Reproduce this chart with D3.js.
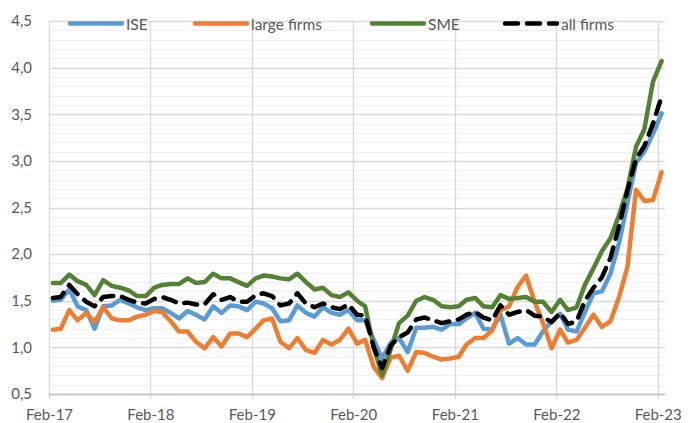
<!DOCTYPE html>
<html>
<head>
<meta charset="utf-8">
<script src="https://cdn.jsdelivr.net/npm/d3@7"></script>
<style>
body { margin: 0; background: #fff; }
svg text { font-family: Lato, "Liberation Sans", sans-serif; fill: #595959; }
</style>
</head>
<body>
<script>

// monthly values, Feb-17 .. Feb-23 (73 points)
var ise = [1.50,1.51,1.62,1.44,1.40,1.20,1.44,1.45,1.51,1.47,1.43,1.40,1.42,
  1.42,1.37,1.31,1.39,1.35,1.30,1.44,1.37,1.45,1.44,1.40,1.49,
  1.47,1.42,1.28,1.29,1.45,1.37,1.33,1.43,1.37,1.35,1.40,1.29,
  1.29,1.08,0.88,1.05,1.10,0.95,1.21,1.21,1.22,1.19,1.25,1.25,
  1.31,1.37,1.20,1.19,1.35,1.04,1.10,1.03,1.03,1.17,1.28,1.36,
  1.19,1.17,1.38,1.58,1.60,1.79,2.12,2.55,2.98,3.10,3.29,3.51];

var large = [1.19,1.20,1.40,1.29,1.37,1.27,1.43,1.31,1.29,1.29,1.33,1.35,1.39,
  1.38,1.28,1.17,1.17,1.06,0.99,1.11,1.01,1.15,1.15,1.11,1.20,
  1.29,1.31,1.06,0.99,1.10,0.97,0.94,1.08,1.03,1.08,1.20,1.04,
  1.08,0.79,0.67,0.89,0.91,0.75,0.95,0.94,0.90,0.87,0.88,0.90,
  1.03,1.10,1.10,1.18,1.40,1.44,1.65,1.77,1.49,1.26,0.99,1.19,
  1.05,1.08,1.21,1.35,1.22,1.28,1.54,1.86,2.69,2.57,2.58,2.88];

var sme = [1.69,1.69,1.78,1.71,1.67,1.56,1.72,1.66,1.64,1.61,1.55,1.55,1.64,
  1.67,1.68,1.68,1.74,1.69,1.70,1.79,1.74,1.74,1.70,1.66,1.74,
  1.77,1.76,1.74,1.73,1.79,1.70,1.62,1.64,1.56,1.54,1.59,1.50,
  1.44,1.00,0.70,0.98,1.26,1.34,1.50,1.54,1.51,1.44,1.43,1.44,
  1.51,1.53,1.44,1.43,1.56,1.52,1.53,1.54,1.49,1.49,1.38,1.51,
  1.40,1.43,1.67,1.85,2.03,2.17,2.42,2.70,3.15,3.34,3.85,4.07];

var allFirms = [1.53,1.54,1.67,1.57,1.49,1.44,1.54,1.55,1.55,1.51,1.48,1.47,1.52,
  1.54,1.51,1.47,1.48,1.46,1.46,1.57,1.51,1.54,1.49,1.49,1.56,
  1.58,1.55,1.45,1.47,1.58,1.47,1.43,1.47,1.43,1.41,1.46,1.35,
  1.34,1.00,0.78,1.02,1.11,1.16,1.30,1.32,1.29,1.26,1.28,1.30,
  1.35,1.38,1.32,1.29,1.45,1.35,1.38,1.40,1.34,1.33,1.27,1.37,
  1.25,1.28,1.50,1.64,1.75,1.96,2.30,2.68,3.02,3.16,3.40,3.69];

var seriesNames = ["ISE", "large firms", "SME", "all firms"];
var seriesColors = ["#5b9bd5", "#ed7d31", "#548235", "#000000"];
var yTicks = [0.5, 1.0, 1.5, 2.0, 2.5, 3.0, 3.5, 4.0, 4.5];
var xTickYears = [2017, 2018, 2019, 2020, 2021, 2022, 2023];

var width = 689, height = 423;

var svg = d3.select("body").append("svg").attr("width", width).attr("height", height);

// time axis, one point per month (mid month)
var dates = ise.map(function(d, i) { return new Date(2017, 1 + i, 15); });
var x = d3.scaleTime().domain([new Date(2017, 1, 1), new Date(2023, 1, 1)]).range([49, 657.7]);
var y = d3.scaleLinear().domain([0.5, 4.5]).range([394, 21]);
var plotRight = 665;

var locale = d3.formatLocale({decimal: ",", thousands: ".", grouping: [3], currency: ["", "€"]});
var fmt = locale.format(".1f");
var xTicks = xTickYears.map(function(yr) { return new Date(yr, 1, 1); });

//minor gridlines every 0.1
var minor = d3.range(5, 46).filter(function(d) { return d % 5 !== 0; }).map(function(d) { return d / 10; });
svg.append("g").selectAll("line").data(minor).enter().append("line")
  .attr("x1", x.range()[0]).attr("x2", plotRight)
  .attr("y1", function(d) { return Math.round(y(d)) + 0.5; })
  .attr("y2", function(d) { return Math.round(y(d)) + 0.5; })
  .attr("stroke", "#f0f0f0").attr("stroke-width", 1);

//major gridlines
svg.append("g").selectAll("line").data(yTicks).enter().append("line")
  .attr("x1", x.range()[0]).attr("x2", plotRight)
  .attr("y1", function(d) { return Math.round(y(d)) + 0.5; })
  .attr("y2", function(d) { return Math.round(y(d)) + 0.5; })
  .attr("stroke", "#d9d9d9").attr("stroke-width", 1.3);

//vertical gridlines at the years, with small ticks under the axis
svg.append("g").selectAll("line").data(xTicks).enter().append("line")
  .attr("x1", function(d) { return Math.round(x(d)) + 0.5; })
  .attr("x2", function(d) { return Math.round(x(d)) + 0.5; })
  .attr("y1", y(4.5)).attr("y2", y(0.5) + 5)
  .attr("stroke", "#d9d9d9").attr("stroke-width", 1.3);

// x axis line
svg.append("line").attr("x1", x.range()[0]).attr("x2", plotRight)
  .attr("y1", Math.round(y(0.5)) + 0.5).attr("y2", Math.round(y(0.5)) + 0.5)
  .attr("stroke", "#bfbfbf").attr("stroke-width", 1.3);

// axis labels
var xAxis = d3.axisBottom(x).tickValues(xTicks).tickFormat(d3.timeFormat("%b-%y")).tickSize(0).tickPadding(15);
var gx = svg.append("g").attr("transform", "translate(0," + y(0.5) + ")").call(xAxis);
gx.select(".domain").remove();
gx.selectAll("text").attr("font-size", 15).attr("font-family", null).style("fill", "#595959");

var yAxis = d3.axisLeft(y).tickValues(yTicks).tickFormat(fmt).tickSize(0).tickPadding(17);
var gy = svg.append("g").attr("transform", "translate(" + x.range()[0] + ",0)").call(yAxis);
gy.select(".domain").remove();
gy.selectAll("text").attr("font-size", 15).attr("font-family", null).style("fill", "#595959");

// series lines
var line = d3.line()
  .x(function(d, i) { return x(dates[i]); })
  .y(function(d) { return y(d); });

var allSeries = [ise, large, sme, allFirms];
allSeries.forEach(function(s, k) {
  svg.append("path").datum(s)
    .attr("d", line)
    .attr("fill", "none")
    .attr("stroke", seriesColors[k])
    .attr("stroke-width", 4.5)
    .attr("stroke-linejoin", "round")
    .attr("stroke-linecap", "round")
    .attr("stroke-dasharray", k === 3 ? "13,9" : null);
});

// legend
var legendX = [70, 195, 372, 505];
var legendY = 23.5;
seriesNames.forEach(function(name, k) {
  svg.append("line")
    .attr("x1", legendX[k]).attr("x2", legendX[k] + 52)
    .attr("y1", legendY).attr("y2", legendY)
    .attr("stroke", seriesColors[k]).attr("stroke-width", 4.5)
    .attr("stroke-linecap", "round")
    .attr("stroke-dasharray", k === 3 ? "13,9" : null);
  svg.append("text")
    .attr("x", legendX[k] + 56).attr("y", legendY + 0.5)
    .attr("dominant-baseline", "central")
    .attr("font-size", 15.5)
    .text(name);
});

</script>
</body>
</html>
